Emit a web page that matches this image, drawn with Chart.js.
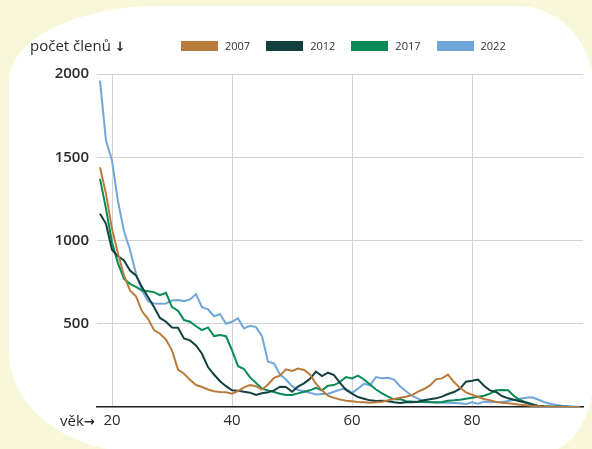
<!DOCTYPE html>
<html><head><meta charset="utf-8">
<script src="https://cdn.jsdelivr.net/npm/chart.js@4.4.1/dist/chart.umd.min.js"></script>
<style>
html,body{margin:0;padding:0;width:592px;height:449px;overflow:hidden;background:#f9f7d9;}
#panel{position:absolute;left:9px;top:6px;width:585px;height:446px;background:#fff;
border-top-left-radius:150px 75px;border-top-right-radius:75px 85px;border-bottom-right-radius:50px 80px;border-bottom-left-radius:130px 100px;}
#wrap{position:absolute;left:0;top:0;width:592px;height:449px;}
.t{position:absolute;font-family:"Open Sans",sans-serif;color:#2a2a2a;white-space:nowrap;line-height:1;}
.ar{font-family:"DejaVu Sans",sans-serif;font-weight:bold;}
#title{left:30px;top:38px;font-size:15px;font-weight:500;}
#title .ar{font-size:13px;}
#xlab{left:60px;top:413px;font-size:15px;font-weight:500;}
#xlab .ar{font-size:13px;}
#legend{position:absolute;left:181px;top:40px;display:flex;font-family:"Open Sans",sans-serif;font-size:11px;color:#333;line-height:12px;}
.li{display:flex;align-items:center;margin-right:16px;}
.sw{width:37px;height:10px;margin-right:7px;}
</style></head><body>
<div id="panel"></div>
<div id="wrap"><canvas id="c" width="592" height="449" style="width:592px;height:449px"></canvas></div>
<div class="t" id="title">počet členů <span class="ar">↓</span></div>
<div class="t" id="xlab">věk<span class="ar">→</span></div>
<div id="legend"></div>
<script>
const ages = [18,19,20,21,22,23,24,25,26,27,28,29,30,31,32,33,34,35,36,37,38,39,40,41,42,43,44,45,46,47,48,49,50,51,52,53,54,55,56,57,58,59,60,61,62,63,64,65,66,67,68,69,70,71,72,73,74,75,76,77,78,79,80,81,82,83,84,85,86,87,88,89,90,91,92,93,94,95,96,97,98];
const seriesNames = ['2007','2012','2017','2022'];
const v2007 = [1440,1280,1070,920,790,700,665,575,530,462,440,405,340,225,200,163,132,120,105,95,90,88,80,96,118,132,125,105,135,175,188,226,217,231,222,195,140,100,68,55,45,38,35,30,28,25,28,32,40,48,55,62,72,92,108,130,166,172,195,150,115,88,74,60,48,40,30,26,22,18,14,10,6,4,2,1,1,0,0,0,0];
const v2012 = [1160,1100,945,905,880,820,790,720,660,600,535,512,478,476,412,400,370,320,240,195,155,125,100,98,92,86,72,82,88,100,122,120,92,122,142,170,212,186,206,192,145,102,80,60,50,40,36,38,35,28,24,28,28,32,40,47,52,62,78,90,110,152,158,165,128,100,90,66,52,44,35,26,12,8,5,3,2,1,1,0,0];
const v2017 = [1370,1190,990,862,770,740,722,700,695,690,672,686,600,578,522,512,485,462,478,426,432,425,342,245,228,178,145,110,100,90,80,72,72,82,92,100,115,100,128,132,150,180,172,188,165,135,105,82,62,46,48,35,33,32,30,28,28,30,38,40,43,50,56,62,68,80,100,102,100,66,42,28,18,6,3,2,1,1,0,0,0];
const v2022 = [1960,1600,1480,1235,1055,945,800,700,635,622,620,622,640,642,636,646,678,600,586,545,558,500,512,532,472,488,480,425,272,262,195,165,125,102,95,85,75,78,80,92,105,110,85,110,140,130,180,172,176,165,125,95,68,50,36,30,26,26,26,24,22,18,28,20,32,28,30,30,36,42,50,55,58,45,30,20,12,8,5,3,2];
const xTicks = [20,40,60,80];
const yTicks = [0,500,1000,1500,2000];
const colors = ['#b97b3c','#12403f','#078a56','#6fa7dc'];
const values = [v2007,v2012,v2017,v2022];

const datasets = seriesNames.map((n,i)=>({
  label:n,
  data: ages.map((a,j)=>({x:a,y:values[i][j]})),
  borderColor:colors[i],backgroundColor:colors[i],
  borderWidth:2,pointRadius:0,tension:0,fill:false
}));

const lg = document.getElementById('legend');
seriesNames.forEach((n,i)=>{
  const d=document.createElement('div');d.className='li';
  const s=document.createElement('div');s.className='sw';s.style.background=colors[i];
  const t=document.createElement('span');t.textContent=n;
  d.appendChild(s);d.appendChild(t);lg.appendChild(d);
});

const font = {family:'"Open Sans", sans-serif', size:15, weight:'600'};
new Chart(document.getElementById('c'),{
  type:'line',
  data:{datasets},
  options:{
    responsive:false,animation:false,devicePixelRatio:1,
    layout:{padding:{left:0,right:9,top:74,bottom:0}},
    plugins:{legend:{display:false},tooltip:{enabled:false}},
    scales:{
      x:{type:'linear',min:17.5,max:98.5,
        afterBuildTicks:s=>{s.ticks=xTicks.map(v=>({value:v}));},
        afterFit:s=>{s.height=42;s.paddingLeft=0;s.paddingRight=0;},
        grid:{color:'#d2d2d2',lineWidth:1,drawTicks:false},
        border:{display:true,color:'#1e1e1e',width:1.6},
        ticks:{font:{family:'"Open Sans", sans-serif', size:15, weight:'500'},color:'#2a2a2a',padding:5,maxRotation:0}
      },
      y:{type:'linear',min:0,max:2000,
        afterBuildTicks:s=>{s.ticks=yTicks.map(v=>({value:v}));},
        afterFit:s=>{s.width=97;s.paddingTop=0;s.paddingBottom=0;},
        grid:{color:c=>c.tick && c.tick.value===0?'rgba(0,0,0,0)':'#d2d2d2',lineWidth:1,drawTicks:false},
        border:{display:false},
        ticks:{font,color:'#2a2a2a',padding:8,callback:v=>v===0?'':String(v)}
      }
    }
  }
});
</script>
</body></html>
